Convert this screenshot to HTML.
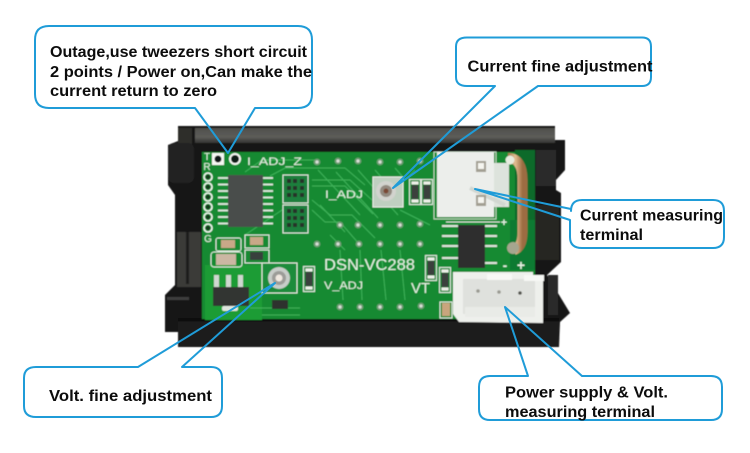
<!DOCTYPE html>
<html>
<head>
<meta charset="utf-8">
<style>
html,body{margin:0;padding:0;background:#fff;width:750px;height:453px;overflow:hidden}
svg{display:block}
.lab{font-family:"Liberation Sans",sans-serif;font-weight:bold;font-size:15.5px;fill:#0c0c0c}
.pcb{font-family:"Liberation Sans",sans-serif;fill:#e6f3e4}
.box{fill:none;stroke:#1f9cd8;stroke-width:2;stroke-linejoin:round}
</style>
</head>
<body>
<svg width="750" height="453" viewBox="0 0 750 453" xmlns="http://www.w3.org/2000/svg">
<defs>
<filter id="b" x="-5%" y="-5%" width="110%" height="110%"><feGaussianBlur stdDeviation="0.55"/></filter>
<linearGradient id="wire" x1="0" x2="1" y1="0" y2="0"><stop offset="0" stop-color="#a5764a"/><stop offset=".5" stop-color="#e2bd92"/><stop offset="1" stop-color="#9c6c42"/></linearGradient>
<linearGradient id="top" x1="0" x2="0" y1="0" y2="1"><stop offset="0" stop-color="#4f4f4c"/><stop offset=".6" stop-color="#5d5d59"/><stop offset="1" stop-color="#343432"/></linearGradient>
<g id="via"><circle r="3.4" fill="#6f9c74"/><circle r="1.6" fill="#d8dfd6"/></g>
<g id="hole"><circle r="4" fill="none" stroke="#f1f5ef" stroke-width="1.6"/><circle r="2.2" fill="#13351c"/></g>
<g id="res"><rect x="-5.5" y="-12.5" width="11" height="25" fill="none" stroke="#dfeadf" stroke-width="1.1"/><rect x="-3.5" y="-7" width="7" height="14" fill="#3a3f3c"/><rect x="-3.5" y="-10.5" width="7" height="3" fill="#eef0ea"/><rect x="-3.5" y="7.5" width="7" height="3" fill="#eef0ea"/></g>
</defs>

<g filter="url(#b)">
<!-- casing -->
<path d="M178 126H555V140H565V170L556 180V190L561 193V262L547 275L570 313L560 322L559 347H178V332H165V295L175 285V195L168 185V145L178 141Z" fill="#161616"/>
<rect x="195" y="128" width="360" height="15" fill="url(#top)"/>
<rect x="178" y="128" width="14" height="16" fill="#2e2e2c"/>
<rect x="178" y="322" width="381" height="24" fill="#1c1c1c"/>
<rect x="178" y="318" width="381" height="3" fill="#0c0c0c"/>
<rect x="177" y="232" width="24" height="55" fill="#3a3a38"/>
<rect x="186" y="232" width="3" height="52" fill="#1e1e1e"/>
<rect x="168" y="143" width="26" height="40" rx="6" fill="#222"/>
<rect x="167" y="297" width="22" height="3" fill="#3d3d3d"/>
<rect x="535" y="205" width="24" height="55" fill="#262624"/>
<rect x="536" y="150" width="20" height="36" fill="#2a2c2a"/>
<rect x="548" y="275" width="10" height="40" fill="#2b2b2b"/>

<!-- pcb -->
<rect x="202" y="152" width="333" height="167" fill="#128a33"/>
<rect x="205" y="265" width="57" height="55" fill="#1f9c35"/>
<rect x="515" y="150" width="20" height="70" fill="#0d6a2b"/>
<rect x="510" y="220" width="25" height="50" fill="#0f7a30"/>

<!-- traces -->
<g fill="none" stroke="#3fb35a" stroke-width="1">
<path d="M245 172L262 160H315"/><path d="M270 176L285 168H345L365 185"/><path d="M312 180H350L372 200"/>
<path d="M312 186H345L373 214"/><path d="M312 200L330 215H352L375 238"/><path d="M312 210L325 222H340L360 245"/>
<path d="M320 205L345 232"/><path d="M330 235L345 250"/><path d="M400 210L430 225"/>
<path d="M340 250L343 300"/><path d="M360 250L362 300"/><path d="M381 250L386 300"/><path d="M400 250L405 300"/>
<path d="M245 235L285 208"/><path d="M375 170L382 178"/><path d="M395 168L402 176"/><path d="M415 170L405 180"/>
<path d="M318 170L360 215"/><path d="M336 172L378 218"/><path d="M358 170L398 215"/>
<path d="M300 308H250"/><path d="M262 315H300"/>
</g>

<!-- vias -->
<g>
<use href="#via" x="317" y="162"/><use href="#via" x="338" y="161"/><use href="#via" x="358" y="161"/><use href="#via" x="380" y="162"/><use href="#via" x="400" y="162"/><use href="#via" x="420" y="161"/>
<use href="#via" x="340" y="225"/><use href="#via" x="358" y="225"/><use href="#via" x="380" y="225"/><use href="#via" x="400" y="225"/><use href="#via" x="420" y="224"/>
<use href="#via" x="317" y="244"/><use href="#via" x="338" y="244"/><use href="#via" x="359" y="244"/><use href="#via" x="380" y="244"/><use href="#via" x="400" y="244"/><use href="#via" x="420" y="244"/>
<use href="#via" x="340" y="307"/><use href="#via" x="360" y="307"/><use href="#via" x="380" y="307"/><use href="#via" x="400" y="307"/><use href="#via" x="421" y="306"/>
</g>

<!-- top pads -->
<rect x="212" y="153" width="12" height="12" fill="#f5f7f3"/><circle cx="218" cy="159" r="3.5" fill="#101712"/>
<circle cx="235" cy="159" r="5" fill="#111c15" stroke="#f5f7f3" stroke-width="2"/>

<!-- left header holes -->
<use href="#hole" x="208" y="177"/><use href="#hole" x="208" y="187"/><use href="#hole" x="208" y="197"/><use href="#hole" x="208" y="207"/><use href="#hole" x="208" y="217"/><use href="#hole" x="208" y="228"/>

<!-- IC -->
<g stroke="#e8eee6" stroke-width="1.7">
<path d="M218 178H228M218 184.500H228M218 191H228M218 197.500H228M218 204H228M218 210.500H228M218 217H228M218 223.500H228"/>
<path d="M263 178H273M263 184.500H273M263 191H273M263 197.500H273M263 204H273M263 210.500H273M263 217H273M263 223.500H273"/>
</g>
<rect x="228" y="175" width="35" height="52" fill="#484d4b"/>

<!-- resistor packs -->
<g>
<rect x="283" y="175" width="25" height="28" fill="#1b7f3c" stroke="#dfeadf" stroke-width="1"/>
<rect x="283" y="205" width="25" height="28" fill="#1b7f3c" stroke="#dfeadf" stroke-width="1"/>
<path d="M289 179V199M295 179V199M302 179V199M289 209V229M295 209V229M302 209V229" stroke="#27332c" stroke-width="4" stroke-dasharray="4 3"/>
</g>

<!-- caps lower-left -->
<g>
<rect x="216" y="238" width="25" height="13" rx="2" fill="none" stroke="#dfeadf"/><rect x="221" y="240" width="14" height="8" fill="#c8a888"/>
<rect x="245" y="235" width="24" height="13" fill="none" stroke="#dfeadf"/><rect x="250" y="237" width="13" height="8" fill="#c8a888"/>
<rect x="211" y="252" width="31" height="15" rx="3" fill="none" stroke="#dfeadf"/><rect x="216" y="254" width="20" height="11" fill="#cbb7a3"/>
<rect x="245" y="250" width="24" height="13" fill="none" stroke="#dfeadf"/><rect x="250" y="252" width="13" height="8" fill="#38403c"/>
</g>

<!-- regulator -->
<g fill="#cfd8d0"><rect x="214" y="275" width="5" height="13"/><rect x="226" y="275" width="5" height="13"/><rect x="238" y="275" width="5" height="13"/></g>
<rect x="213" y="287" width="36" height="19" fill="#323533"/>
<rect x="222" y="306" width="16" height="5" rx="2" fill="#dfe6de"/>

<!-- V trimmer -->
<rect x="262" y="263" width="35" height="30" fill="#1a8c3a" stroke="#e3eee0"/>
<circle cx="279" cy="278" r="11" fill="#c8cdc9"/><circle cx="279" cy="278" r="7" fill="#9c9c98"/><circle cx="279" cy="278" r="3.500" fill="#f0e8e0"/>
<use href="#res" x="309" y="279"/>
<rect x="272" y="300" width="16" height="9" fill="#2d302e"/>

<!-- I trimmer -->
<rect x="373" y="177" width="30" height="30" fill="#bfcfc0" stroke="#e8efe6"/>
<circle cx="386" cy="191" r="10" fill="#d2d3ce"/><circle cx="386" cy="191" r="6" fill="#938a80"/><circle cx="386" cy="191" r="2.500" fill="#7a4a35"/>
<use href="#res" x="415" y="192"/><use href="#res" x="427" y="192"/>

<!-- top white connector -->
<rect x="434" y="152" width="62" height="67" fill="none" stroke="#bcd8bd"/>
<rect x="488" y="163" width="21" height="44" fill="#dde3dc"/>
<rect x="437" y="152" width="57" height="65" fill="#eceeeb"/>
<path d="M470 188L505 205" stroke="#d2d7d1" stroke-width="4"/>
<rect x="476" y="161" width="10" height="11" fill="#a29f92"/><rect x="478" y="163" width="6" height="6" fill="#f5f5ef"/>
<rect x="476" y="195" width="10" height="11" fill="#a29f92"/><rect x="478" y="197" width="6" height="6" fill="#f5f5ef"/>

<!-- copper wire -->
<path d="M508 158C518 158 522.500 166 522.500 180V232C522.500 242 520 248 514 250" fill="none" stroke="url(#wire)" stroke-width="10"/>
<circle cx="510" cy="160" r="4.500" fill="#e7ecdf"/>
<circle cx="513" cy="248" r="6" fill="#a5a68f"/>

<!-- SOIC chip -->
<g stroke="#dfe5dd" stroke-width="2">
<path d="M442 226H458M442 236H458M442 246H458M442 258H458"/>
<path d="M485 226H497M485 236H497M485 246H497M485 263H497"/>
</g>
<rect x="458" y="225" width="27" height="43" fill="#2e2f2d"/>
<path d="M446 222H500" stroke="#dfe5dd" stroke-width="1"/>

<!-- lower resistors -->
<use href="#res" x="431" y="268"/>
<use href="#res" x="445" y="280"/>
<rect x="440" y="302" width="12" height="16" fill="none" stroke="#dfeadf"/><rect x="442" y="303" width="8" height="13" fill="#c9a57d"/>

<!-- bottom white connector -->
<path d="M453 272H533V276H543V323L459 322L453 314Z" fill="#eef0ec"/>
<rect x="463" y="279" width="72" height="35" fill="#dfe1dd"/>
<rect x="465" y="307" width="70" height="10" fill="#e9ebe7"/>
<rect x="487" y="274" width="25" height="6" fill="#f7f8f5"/>
<rect x="524" y="275" width="20" height="6" fill="#f7f8f5"/>
<circle cx="478" cy="291" r="1.800" fill="#9a9a92"/><circle cx="499" cy="292" r="1.800" fill="#9a9a92"/><circle cx="520" cy="293" r="1.800" fill="#55554f"/>

<!-- silk labels -->
<text class="pcb" x="207" y="160" font-size="10" text-anchor="middle">T</text>
<text class="pcb" x="207" y="170" font-size="10" text-anchor="middle">R</text>
<text class="pcb" x="208" y="242" font-size="10" text-anchor="middle">G</text>
<text class="pcb" x="247" y="165" font-size="11" textLength="55" lengthAdjust="spacingAndGlyphs">I_ADJ_Z</text>
<text class="pcb" x="325" y="198" font-size="11" textLength="38" lengthAdjust="spacingAndGlyphs">I_ADJ</text>
<text class="pcb" x="324" y="270" font-size="16" textLength="91" lengthAdjust="spacingAndGlyphs">DSN-VC288</text>
<text class="pcb" x="324" y="289" font-size="11" textLength="39" lengthAdjust="spacingAndGlyphs">V_ADJ</text>
<text class="pcb" x="411" y="293" font-size="15" textLength="19" lengthAdjust="spacingAndGlyphs">VT</text>
<text class="pcb" x="505" y="270" font-size="14" font-weight="bold" text-anchor="middle">-</text>
<text class="pcb" x="521" y="270" font-size="14" font-weight="bold" text-anchor="middle">+</text>
<text class="pcb" x="504" y="226" font-size="11" font-weight="bold" text-anchor="middle">+</text>
</g>

<!-- callouts -->
<path class="box" d="M49 26H298Q312 26 312 40V94Q312 108 298 108H255L228 153L195 108H49Q35 108 35 94V40Q35 26 49 26Z"/>
<path class="box" d="M467 37.500H642Q651 37.500 651 46.500V77Q651 86 642 86H538L393 188L495 86H467Q456 86 456 77V46.500Q456 37.500 467 37.500Z"/>
<path class="box" d="M582 200H713Q724 200 724 211V237Q724 248 713 248H582Q570 248 570 237V220L475 189L571 209V211Q571 200 582 200Z"/>
<path class="box" d="M36 367H138L275 283L182 367H211Q222 367 222 378V406Q222 417 211 417H36Q24 417 24 406V378Q24 367 36 367Z"/>
<path class="box" d="M490 376H528L505 307L582 376H711Q722 376 722 387V409Q722 420 711 420H490Q479 420 479 409V387Q479 376 490 376Z"/>

<text class="lab" x="50" y="57" textLength="257" lengthAdjust="spacingAndGlyphs">Outage,use tweezers short circuit</text>
<text class="lab" x="50" y="77" textLength="262" lengthAdjust="spacingAndGlyphs">2 points / Power on,Can make the</text>
<text class="lab" x="50" y="96" textLength="167" lengthAdjust="spacingAndGlyphs">current return to zero</text>
<text class="lab" x="467.500" y="71.500" textLength="185" lengthAdjust="spacingAndGlyphs">Current fine adjustment</text>
<text class="lab" x="580" y="220.500" textLength="143" lengthAdjust="spacingAndGlyphs">Current measuring</text>
<text class="lab" x="580" y="240" textLength="63" lengthAdjust="spacingAndGlyphs">terminal</text>
<text class="lab" x="49" y="401" textLength="163" lengthAdjust="spacingAndGlyphs">Volt. fine adjustment</text>
<text class="lab" x="505" y="397.500" textLength="163" lengthAdjust="spacingAndGlyphs">Power supply &amp; Volt.</text>
<text class="lab" x="505" y="417" textLength="150" lengthAdjust="spacingAndGlyphs">measuring terminal</text>
</svg>
</body>
</html>
